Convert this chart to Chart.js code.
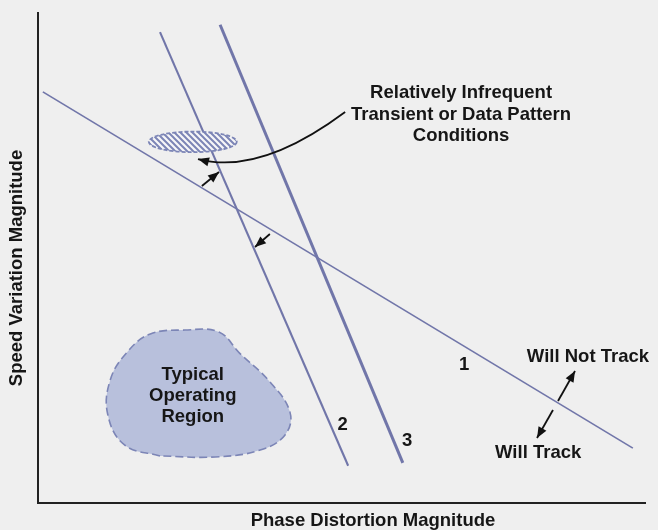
<!DOCTYPE html>
<html>
<head>
<meta charset="utf-8">
<script src="https://cdn.jsdelivr.net/npm/chart.js@4.4.1/dist/chart.umd.min.js"></script>
<style>
    html, body { margin: 0; padding: 0; background: #efefef; }
    canvas { display: block; }
</style>
</head>
<body>
<canvas id="graficoSeguimiento" width="658" height="530"></canvas>
<script>
// Tracking limit lines (phase distortion vs speed variation, arbitrary units 0-100)
const limite1 = [{ x: 0.8, y: 83.9 }, { x: 98.0, y: 11.2 }];
const limite2 = [{ x: 20.1, y: 96.1 }, { x: 51.1, y: 7.6 }];
const limite3 = [{ x: 30.0, y: 97.6 }, { x: 60.1, y: 8.2 }];
const nombresLimites = ["1", "2", "3"];
const posicionNombres = [{ x: 70.2, y: 28.2 }, { x: 50.2, y: 15.9 }, { x: 60.8, y: 12.7 }];

// Outline of the usual operating area
const regionTipica = [
    { x: 20.1, y: 9.6 }, { x: 14.3, y: 11.8 }, { x: 11.5, y: 18.0 }, { x: 11.9, y: 25.1 },
    { x: 14.7, y: 30.8 }, { x: 18.5, y: 34.5 }, { x: 24.2, y: 35.3 }, { x: 29.8, y: 34.9 },
    { x: 33.2, y: 30.6 }, { x: 38.0, y: 25.0 }, { x: 41.5, y: 18.6 }, { x: 40.7, y: 13.9 },
    { x: 36.6, y: 10.8 }, { x: 29.2, y: 9.4 }, { x: 20.1, y: 9.6 }
];

// Infrequent conditions: ellipse centre and radii
const centroInfrecuente = { x: 25.5, y: 73.7 };
const radiosInfrecuente = { x: 7.25, y: 2.1 };

// Straight arrows: [tail, head]
const flechas = [
    [{ x: 27.0, y: 64.7 }, { x: 29.82, y: 67.55 }],
    [{ x: 38.2, y: 54.9 }, { x: 35.75, y: 52.24 }],
    [{ x: 85.67, y: 20.82 }, { x: 88.47, y: 26.94 }],
    [{ x: 84.84, y: 18.98 }, { x: 82.21, y: 13.27 }]
];
// Curved leader: start, control, end
const flechaCurva = [{ x: 50.6, y: 79.8 }, { x: 36.5, y: 66.8 }, { x: 26.36, y: 70.2 }];

const textos = [
    { t: "Relatively Infrequent", x: 69.7, y: 83.7 },
    { t: "Transient or Data Pattern", x: 69.7, y: 79.2 },
    { t: "Conditions", x: 69.7, y: 74.9 },
    { t: "Typical", x: 25.5, y: 26.1 },
    { t: "Operating", x: 25.5, y: 21.8 },
    { t: "Region", x: 25.5, y: 17.5 },
    { t: "Will Not Track", x: 90.6, y: 29.8 },
    { t: "Will Track", x: 82.4, y: 10.2 }
];
const tituloX = "Phase Distortion Magnitude";
const tituloY = "Speed Variation Magnitude";

const FUENTE = "bold 18.5px 'Liberation Sans', Arial, sans-serif";
const AZUL_LINEA = "#7176a9";
const AZUL_PUNTEADO = "#7c85b6";

function patronRayado() {
    const c = document.createElement("canvas");
    c.width = 6; c.height = 6;
    const g = c.getContext("2d");
    g.fillStyle = "#f6f6f8";
    g.fillRect(0, 0, 6, 6);
    g.strokeStyle = "#7c85b6";
    g.lineWidth = 2;
    g.beginPath();
    g.moveTo(-1, -1); g.lineTo(7, 7);
    g.moveTo(-1, 5); g.lineTo(1, 7);
    g.moveTo(5, -1); g.lineTo(7, 1);
    g.stroke();
    return c;
}

function puntaFlecha(ctx, x0, y0, x1, y1) {
    const ang = Math.atan2(y1 - y0, x1 - x0);
    const largo = 11, ancho = 4.5;
    ctx.beginPath();
    ctx.moveTo(x1, y1);
    ctx.lineTo(x1 - largo * Math.cos(ang) + ancho * Math.sin(ang), y1 - largo * Math.sin(ang) - ancho * Math.cos(ang));
    ctx.lineTo(x1 - largo * Math.cos(ang) - ancho * Math.sin(ang), y1 - largo * Math.sin(ang) + ancho * Math.cos(ang));
    ctx.closePath();
    ctx.fill();
}

const anotaciones = {
    id: "anotaciones",
    afterDatasetsDraw(chart) {
        const ctx = chart.ctx;
        const sx = chart.scales.x, sy = chart.scales.y;
        const px = (p) => sx.getPixelForValue(p.x);
        const py = (p) => sy.getPixelForValue(p.y);
        ctx.save();

        // hatched ellipse
        const cx = px(centroInfrecuente), cy = py(centroInfrecuente);
        const rx = Math.abs(sx.getPixelForValue(centroInfrecuente.x + radiosInfrecuente.x) - cx);
        const ry = Math.abs(sy.getPixelForValue(centroInfrecuente.y + radiosInfrecuente.y) - cy);
        ctx.beginPath();
        ctx.ellipse(cx, cy, rx, ry, 0, 0, Math.PI * 2);
        ctx.fillStyle = ctx.createPattern(patronRayado(), "repeat");
        ctx.fill();
        ctx.setLineDash([4, 2]);
        ctx.lineWidth = 1.8;
        ctx.strokeStyle = AZUL_PUNTEADO;
        ctx.stroke();
        ctx.setLineDash([]);

        // arrows
        ctx.strokeStyle = "#111";
        ctx.fillStyle = "#111";
        ctx.lineWidth = 1.8;
        flechas.forEach(([a, b]) => {
            ctx.beginPath();
            ctx.moveTo(px(a), py(a));
            ctx.lineTo(px(b), py(b));
            ctx.stroke();
            puntaFlecha(ctx, px(a), py(a), px(b), py(b));
        });
        const [s, k, e] = flechaCurva;
        ctx.beginPath();
        ctx.moveTo(px(s), py(s));
        ctx.quadraticCurveTo(px(k), py(k), px(e), py(e));
        ctx.stroke();
        puntaFlecha(ctx, px(k), py(k), px(e), py(e));

        // labels
        ctx.font = FUENTE;
        ctx.textAlign = "center";
        ctx.textBaseline = "middle";
        ctx.fillStyle = "#161616";
        textos.forEach((t) => ctx.fillText(t.t, px(t), py(t)));
        nombresLimites.forEach((n, i) => ctx.fillText(n, px(posicionNombres[i]), py(posicionNombres[i])));

        // axis titles
        ctx.fillText(tituloX, 373, 521);
        ctx.translate(17, 268);
        ctx.rotate(-Math.PI / 2);
        ctx.fillText(tituloY, 0, 0);
        ctx.restore();
    }
};

const linea = (datos, ancho) => ({
    data: datos,
    showLine: true,
    borderColor: AZUL_LINEA,
    borderWidth: ancho,
    pointRadius: 0,
    fill: false
});

new Chart(document.getElementById("graficoSeguimiento"), {
    type: "scatter",
    data: {
        datasets: [
            {
                data: regionTipica,
                showLine: true,
                tension: 0.4,
                borderColor: AZUL_PUNTEADO,
                borderWidth: 1.6,
                borderDash: [8, 4],
                backgroundColor: "#b8c0dc",
                fill: "shape",
                pointRadius: 0
            },
            linea(limite1, 1.7),
            linea(limite2, 2.1),
            linea(limite3, 3)
        ]
    },
    options: {
        responsive: false,
        animation: false,
        layout: { padding: { left: 38, top: 13, right: 13, bottom: 27 } },
        plugins: { legend: { display: false }, tooltip: { enabled: false } },
        scales: {
            x: {
                min: 0, max: 100,
                ticks: { display: false },
                grid: { display: false, drawTicks: false },
                border: { display: true, color: "#222", width: 2 },
                afterFit: (s) => { s.height = 0; }
            },
            y: {
                min: 0, max: 100,
                ticks: { display: false },
                grid: { display: false, drawTicks: false },
                border: { display: true, color: "#222", width: 2 },
                afterFit: (s) => { s.width = 0; }
            }
        }
    },
    plugins: [anotaciones]
});
</script>
</body>
</html>
